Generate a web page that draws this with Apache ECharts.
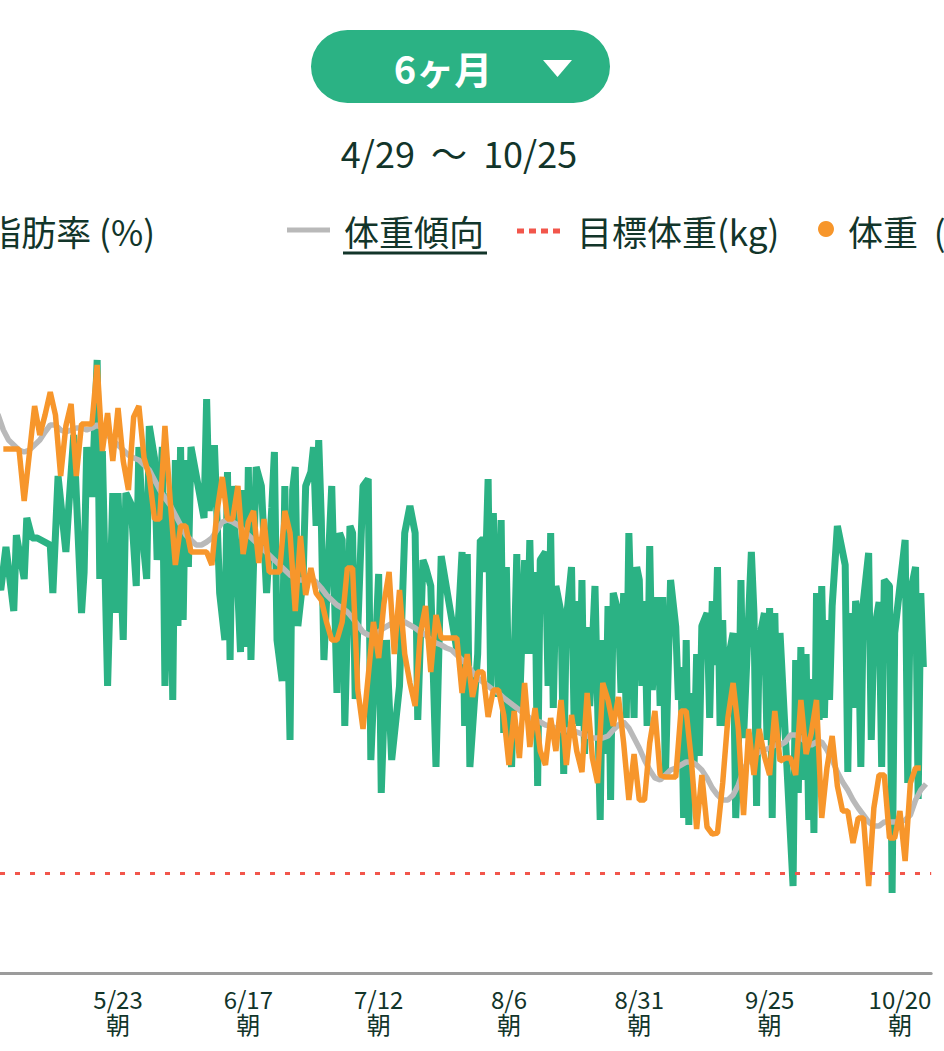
<!DOCTYPE html>
<html><head><meta charset="utf-8">
<script src="https://cdn.jsdelivr.net/npm/echarts@6/dist/echarts.min.js"></script>
<style>html,body{margin:0;padding:0;background:#fff;overflow:hidden}#c{width:944px;height:1051px}</style>
</head><body><div id="c"></div>
<script>
// x = day index, 0 = 4/28
const tickDays = [25, 50, 75, 100, 125, 150, 175];
const tickLabels = ['5/23', '6/17', '7/12', '8/6', '8/31', '9/25', '10/20'];
const rangeTitle = '4/29\u00a0\u00a0〜\u00a0\u00a010/25';
const periodLabel = '6ヶ月';
const targetWeight = 61.0;

// weight (kg), one reading per day
const weight = [
null,null,null,65.24,65.24,65.24,65.24,64.72,null,65.67,
65.38,65.58,65.81,65.58,64.97,65.47,65.69,64.97,65.49,65.49,
65.49,66.08,65.22,65.60,65.12,65.65,65.12,64.83,65.56,65.67,
65.15,64.97,64.54,64.54,65.47,64.73,64.08,64.47,64.47,64.21,
64.21,64.21,64.21,64.08,64.62,64.96,64.54,64.54,64.87,64.19,
64.51,64.62,64.10,64.54,64.01,64.01,64.01,64.62,64.40,63.62,
64.37,63.78,64.05,63.80,63.73,63.51,63.33,63.33,63.51,64.05,
64.05,62.83,62.44,62.97,63.51,63.15,63.69,64.01,63.19,63.83,
63.19,62.90,62.67,63.40,63.67,63.01,63.58,63.35,63.35,63.35,
63.35,62.80,63.19,62.76,63.01,63.01,62.56,62.83,62.83,62.58,
62.08,62.62,62.15,62.90,62.26,62.65,62.22,62.08,62.55,62.22,
62.73,62.08,62.58,62.22,62.01,62.80,62.15,61.90,62.90,62.73,
62.47,62.76,62.30,61.73,62.19,61.73,61.73,62.30,62.62,61.98,
61.96,61.96,61.96,62.62,62.62,62.12,61.44,61.98,61.46,61.39,
61.40,61.90,62.55,62.90,62.44,61.58,62.44,61.98,62.44,62.17,
61.98,62.62,62.12,62.15,62.15,61.98,62.73,62.19,62.40,62.73,
61.55,62.05,62.37,61.87,61.62,61.62,61.30,61.55,61.55,60.87,
61.65,61.98,61.98,61.35,61.35,61.62,61.12,61.90,62.05,62.05
];

// weight trend (kg)
const trend = [
65.68,65.63,65.58,65.43,65.33,65.28,65.23,65.21,65.23,65.28,
65.33,65.41,65.48,65.48,65.43,65.41,65.43,65.45,65.45,65.43,
65.45,65.48,65.45,65.38,65.33,65.28,65.23,65.18,65.15,65.13,
65.08,65.03,64.93,64.83,64.75,64.68,64.58,64.48,64.38,64.33,
64.28,64.28,64.31,64.35,64.43,64.51,64.53,64.51,64.48,64.43,
64.38,64.33,64.28,64.23,64.18,64.13,64.08,64.03,63.98,63.95,
63.93,63.93,63.95,63.91,63.85,63.78,63.73,63.68,63.65,63.61,
63.55,63.48,63.41,63.38,63.38,63.41,63.45,63.48,63.51,63.53,
63.51,63.48,63.45,63.41,63.38,63.33,63.30,63.28,63.25,63.23,
63.18,63.13,63.08,63.01,62.95,62.91,62.87,62.83,62.80,62.75,
62.71,62.67,62.63,62.59,62.55,62.53,62.51,62.48,62.47,62.45,
62.43,62.43,62.43,62.41,62.39,62.37,62.35,62.35,62.35,62.37,
62.43,62.48,62.51,62.45,62.35,62.25,62.13,62.03,61.95,61.93,
61.98,62.03,62.05,62.08,62.11,62.11,62.08,62.03,61.95,61.85,
61.78,61.73,61.73,61.78,61.88,62.03,62.13,62.18,62.21,62.23,
62.25,62.28,62.28,62.31,62.38,62.38,62.35,62.31,62.28,62.31,
62.31,62.23,62.13,62.01,61.91,61.83,61.73,61.65,61.58,61.51,
61.47,61.47,61.51,61.51,61.51,61.51,61.53,61.58,61.73,61.83,
61.89
];

// body fat (%), morning readings
const fatAM = [
null,null,null,null,null,19.62,null,19.94,null,null,
null,null,20.28,null,null,20.21,null,null,19.60,21.26,
20.76,22.13,21.22,18.87,20.80,20.80,19.33,null,null,21.26,
20.21,21.47,21.15,null,18.87,20.80,21.13,21.26,21.13,21.26,
null,null,21.74,null,null,null,21.01,20.87,19.80,20.83,
21.06,null,null,null,null,21.21,null,20.87,18.33,21.06,
null,20.87,21.01,20.47,20.53,null,20.87,18.80,20.33,null,
20.40,null,20.87,20.94,null,19.99,null,null,null,18.87,
20.40,20.67,20.40,null,20.06,19.87,18.06,20.17,null,null,
19.23,20.21,20.19,null,19.19,20.33,20.94,20.60,18.76,18.40,
18.62,null,18.62,20.13,20.33,20.01,20.13,20.21,20.40,19.87,
19.60,19.53,20.06,19.72,19.93,19.46,null,null,19.33,19.67,
19.80,19.60,19.80,20.40,18.55,19.93,19.72,20.27,null,18.67,
17.94,19.93,19.46,19.06,19.33,18.80,19.19,19.47,19.60,19.72,
20.06,19.53,19.12,19.40,18.22,18.35,null,19.60,19.33,19.60,
19.65,19.60,19.40,null,null,19.13,19.26,19.19,18.94,19.80,
19.87,19.53,19.67,20.47,null,18.01,18.65,19.60,19.72,20.20,
19.40,19.71,19.93,19.87,19.40,null,20.33,19.80,20.06,19.80
];

// body fat (%), evening readings
const fatPM = [
null,20.03,19.83,20.26,null,20.38,null,20.55,20.35,20.35,
null,null,19.80,20.97,null,20.62,21.38,null,20.01,null,
null,19.94,null,null,19.60,null,20.80,20.69,19.87,null,
19.94,null,20.13,21.26,null,18.73,19.47,19.53,20.06,null,
null,20.55,20.62,21.28,19.80,19.33,19.13,null,19.21,19.26,
19.13,21.06,20.87,19.80,20.65,19.33,18.92,null,20.83,19.47,
19.94,null,21.26,21.33,19.13,null,null,20.40,18.47,20.47,
18.74,null,null,18.13,null,17.80,19.33,18.13,null,null,
null,null,18.53,20.13,null,null,null,null,null,null,
null,18.47,18.06,null,20.33,20.01,18.85,null,20.53,20.06,
18.06,20.19,null,19.19,19.19,17.87,null,18.87,18.65,null,
17.99,null,18.49,18.47,18.19,18.67,19.87,17.53,18.19,17.73,
null,18.80,18.55,null,20.06,18.87,18.47,18.83,19.76,19.76,
18.94,null,18.73,17.55,17.48,18.06,18.17,null,18.55,19.08,
18.47,18.47,null,17.55,19.93,null,20.21,17.67,null,18.33,
17.55,18.30,null,null,16.87,17.80,17.93,17.53,17.40,18.53,
18.55,18.73,null,null,20.08,19.60,19.72,18.06,null,18.33,
null,18.06,null,16.80,null,null,17.90,null,17.74,19.06
];

const legendNames = ['体脂肪率 (%)', '体重傾向', '目標体重(kg)', '体重\u00a0\u00a0(kg)'];

const C_GREEN = '#2BB284', C_ORANGE = '#F7962B', C_GRAY = '#B9B9B9', C_RED = '#F2564B', C_TEXT = '#12352A';
const FONT = '"Noto Sans CJK JP", "Noto Sans", sans-serif';

const weightData = [];
weight.forEach((v, d) => { if (v != null) weightData.push([d, v]); });
const trendData = [];
trend.forEach((v, d) => { if (v != null) trendData.push([d, v]); });
const fatData = [];
for (let d = 0; d < fatAM.length; d++) {
  if (fatAM[d] != null) fatData.push([d, fatAM[d]]);
  if (fatPM[d] != null) fatData.push([d + 0.5, fatPM[d]]);
}

function txt(x, y, text, font, fill, align) {
  return { type: 'text', x: x, y: y, silent: true,
    style: { text: text, font: font, fill: fill, align: align, textAlign: align,
      verticalAlign: 'middle', textVerticalAlign: 'middle' } };
}

const chart = echarts.init(document.getElementById('c'), null, { renderer: 'svg', width: 944, height: 1051 });
chart.setOption({
  animation: false,
  backgroundColor: '#fff',
  textStyle: { fontFamily: FONT },
  grid: { left: 0, right: 12.8, top: 273, bottom: 78, containLabel: false },
  xAxis: {
    type: 'value', min: 2.36, max: 181,
    axisLine: { show: true, lineStyle: { color: '#9B9B9B', width: 3 } },
    axisTick: { show: false, customValues: tickDays },
    splitLine: { show: false },
    axisLabel: {
      customValues: tickDays,
      margin: 13, color: C_TEXT, fontSize: 24, lineHeight: 25, fontFamily: FONT,
      formatter: function (v) { const i = tickDays.indexOf(v); return i < 0 ? '' : tickLabels[i] + '\n朝'; }
    }
  },
  yAxis: [
    { type: 'value', min: 60, max: 67, show: false, splitLine: { show: false } },
    { type: 'value', min: 16, max: 23, show: false, splitLine: { show: false } }
  ],
  series: [
    { name: legendNames[0], type: 'line', yAxisIndex: 1, data: fatData, symbol: 'none', silent: true, z: 2,
      lineStyle: { color: C_GREEN, width: 7, cap: 'butt', join: 'bevel' } },
    { name: legendNames[1], type: 'line', yAxisIndex: 0, data: trendData, symbol: 'none', silent: true, z: 3,
      lineStyle: { color: C_GRAY, width: 5.5, cap: 'butt', join: 'bevel' } },
    { name: legendNames[3], type: 'line', yAxisIndex: 0, data: weightData, symbol: 'none', silent: true, z: 4,
      lineStyle: { color: C_ORANGE, width: 5.5, cap: 'butt', join: 'bevel' } },
    { name: legendNames[2], type: 'line', yAxisIndex: 0, data: [], z: 5, silent: true,
      markLine: { silent: true, symbol: ['none', 'none'], label: { show: false },
        lineStyle: { color: C_RED, width: 3, type: [5, 10], dashOffset: 0 },
        emphasis: { disabled: true },
        data: [{ yAxis: targetWeight }] } }
  ],
  graphic: { elements: [
    { type: 'rect', silent: true, shape: { x: 311, y: 30, width: 299, height: 73, r: 36.5 }, style: { fill: C_GREEN } },
    txt(443, 67, periodLabel, 'bold 38px ' + FONT, '#FFFFFF', 'center'),
    { type: 'polygon', silent: true, shape: { points: [[543, 60], [572, 60], [557.5, 77]] }, style: { fill: '#FFFFFF' } },
    txt(459, 152, rangeTitle, '36px ' + FONT, C_TEXT, 'center'),
    txt(155, 230, legendNames[0], '35px ' + FONT, C_TEXT, 'right'),
    { type: 'line', silent: true, shape: { x1: 287, y1: 230, x2: 330, y2: 230 }, style: { stroke: C_GRAY, lineWidth: 5 } },
    txt(344, 230, legendNames[1], '35px ' + FONT, C_TEXT, 'left'),
    { type: 'rect', silent: true, shape: { x: 343, y: 251.5, width: 144, height: 3 }, style: { fill: C_TEXT } },
    { type: 'line', silent: true, shape: { x1: 517, y1: 231, x2: 560, y2: 231 }, style: { stroke: C_RED, lineWidth: 5, lineDash: [7, 5] } },
    txt(577, 230, legendNames[2], '35px ' + FONT, C_TEXT, 'left'),
    { type: 'circle', silent: true, shape: { cx: 826, cy: 229, r: 8 }, style: { fill: C_ORANGE } },
    txt(848, 230, legendNames[3], '35px ' + FONT, C_TEXT, 'left')
  ] }
});
</script></body></html>
